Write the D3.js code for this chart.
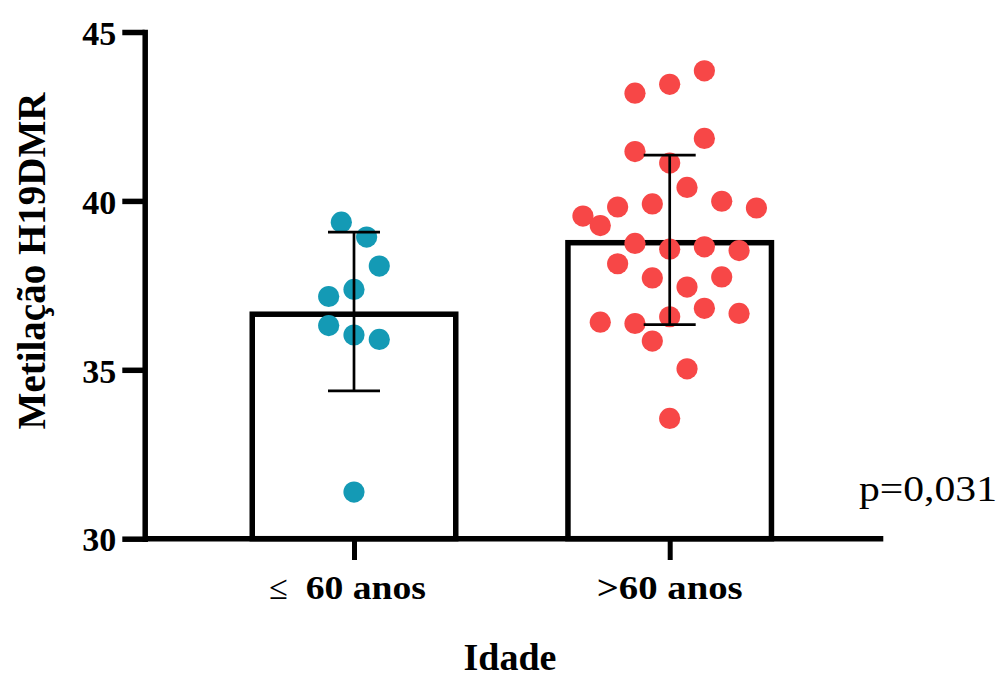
<!DOCTYPE html>
<html>
<head>
<meta charset="utf-8">
<script src="https://cdn.jsdelivr.net/npm/d3@7"></script>
<style>
  html, body { margin: 0; padding: 0; background: #fff; }
  svg { display: block; }
</style>
</head>
<body>
<div id="chart"></div>
<script>
// H19 DMR methylation by age group (individual values, bar = mean, whiskers = SD)
const categories = ["≤ 60 anos", ">60 anos"];

// values listed row by row (top to bottom), left to right within a row
const youngerValues = [39.37, 38.93, 37.17, 37.38, 38.07, 36.31, 36.03, 35.90, 31.38];
const olderValues = [
  43.19, 43.45, 43.85,
  41.46, 41.12, 41.85,
  39.55, 39.82, 39.91, 40.40, 39.99, 39.79,
  39.27, 38.74, 38.57, 38.64, 38.53,
  38.14, 37.72, 37.45, 37.75,
  36.41, 36.37, 36.57, 36.82, 36.67,
  35.85, 35.03,
  33.56
];
const groupValues = [youngerValues, olderValues];
const groupColors = ["#149ab5", "#f74747"];

const yTicks = [30, 35, 40, 45];
const yDomain = [30, 45];
const yTitle = "Metilação H19DMR";
const xTitle = "Idade";
const pLabel = "p=0,031";

const W = 1006, H = 679;
const serif = "'Liberation Serif', 'Times New Roman', serif";

const svg = d3.select("#chart").append("svg")
  .attr("width", W).attr("height", H);

const y = d3.scaleLinear().domain(yDomain).range([538.7, 32]);
const x = d3.scalePoint().domain(categories).range([354, 669.7]);

const axisX0 = 144.7, axisX1 = 883.3, axisW = 5.5;
const barOuter = 209, barStroke = 5.5;
const dotR = 10.6;
const slotStep = [12.65, 17.35];
const rowTol = 0.93;
const capHalf = 26;

// arrange dots in horizontal rows (grouped by value), centred on the column
function swarmSlots(values, tol) {
  const order = d3.range(values.length).sort((a, b) => values[b] - values[a] || a - b);
  const rows = [];
  let cur = null;
  for (const i of order) {
    if (!cur || values[cur.start] - values[i] > tol) { cur = { start: i, idx: [] }; rows.push(cur); }
    cur.idx.push(i);
  }
  const slot = new Array(values.length);
  rows.forEach(r => {
    const ids = r.idx.slice().sort((a, b) => a - b);
    const n = ids.length;
    ids.forEach((id, k) => { slot[id] = 2 * k - (n - 1); });
  });
  return slot;
}

const groups = categories.map((c, g) => {
  const vals = groupValues[g];
  return {
    cat: c,
    vals,
    mean: d3.mean(vals),
    sd: d3.deviation(vals),
    slots: swarmSlots(vals, rowTol),
    step: slotStep[g],
    color: groupColors[g]
  };
});

// bars (mean)
svg.append("g").selectAll("rect").data(groups).join("rect")
  .attr("x", d => x(d.cat) - barOuter / 2 + barStroke / 2)
  .attr("width", barOuter - barStroke)
  .attr("y", d => y(d.mean) + barStroke / 2)
  .attr("height", d => y(yDomain[0]) - y(d.mean) - barStroke / 2)
  .attr("fill", "#fff")
  .attr("stroke", "#000")
  .attr("stroke-width", barStroke);

// individual points
groups.forEach(gr => {
  svg.append("g").selectAll("circle").data(gr.vals).join("circle")
    .attr("cx", (v, i) => x(gr.cat) + gr.slots[i] * gr.step)
    .attr("cy", v => y(v))
    .attr("r", dotR)
    .attr("fill", gr.color);
});

// error bars (± SD)
const eb = svg.append("g").attr("stroke", "#000").attr("stroke-width", 2.7).attr("fill", "none");
groups.forEach(gr => {
  const cx = x(gr.cat);
  const top = y(gr.mean + gr.sd), bot = y(gr.mean - gr.sd);
  eb.append("line").attr("x1", cx).attr("x2", cx).attr("y1", top).attr("y2", bot);
  eb.append("line").attr("x1", cx - capHalf).attr("x2", cx + capHalf).attr("y1", top).attr("y2", top);
  eb.append("line").attr("x1", cx - capHalf).attr("x2", cx + capHalf).attr("y1", bot).attr("y2", bot);
});

// y axis
const gy = svg.append("g")
  .attr("transform", `translate(${axisX0},0)`)
  .call(d3.axisLeft(y).tickValues(yTicks).tickSize(22.4).tickSizeOuter(0).tickPadding(6).tickFormat(d3.format("d")));
gy.select(".domain").attr("stroke-width", axisW).attr("stroke-linecap", "square");
gy.selectAll(".tick line").attr("stroke-width", axisW);
gy.selectAll(".tick text")
  .attr("font-family", serif).attr("font-weight", "bold").attr("font-size", 34)
  .attr("fill", "#000").attr("dy", "0.36em");

// x axis
svg.append("line")
  .attr("x1", axisX0).attr("x2", axisX1)
  .attr("y1", y(yDomain[0])).attr("y2", y(yDomain[0]))
  .attr("stroke", "#000").attr("stroke-width", axisW);
const gx = svg.append("g")
  .attr("transform", `translate(0,${y(yDomain[0])})`)
  .call(d3.axisBottom(x).tickSize(21.3).tickSizeOuter(0).tickFormat(""));
gx.select(".domain").remove();
gx.selectAll(".tick line").attr("stroke-width", 5);

// category labels
const labelY = 599;
const lab = svg.append("g").attr("font-family", serif).attr("font-size", 34).attr("fill", "#000");
categories.forEach((c, i) => {
  const cx = x(c);
  const t = lab.append("text").attr("y", labelY);
  if (c.startsWith("≤")) {
    t.append("tspan").attr("x", cx - 84.7).attr("font-weight", "normal").text("≤");
    t.append("tspan").attr("x", cx - 48.3).attr("font-weight", "bold")
      .attr("textLength", 120.3).attr("lengthAdjust", "spacingAndGlyphs")
      .text(c.replace("≤", "").trim());
  } else {
    t.attr("x", cx - 73).attr("font-weight", "bold")
      .attr("textLength", 146).attr("lengthAdjust", "spacingAndGlyphs")
      .text(c);
  }
});

// axis titles
svg.append("text")
  .attr("transform", `translate(45,261) rotate(-90)`)
  .attr("text-anchor", "middle")
  .attr("font-family", serif).attr("font-weight", "bold").attr("font-size", 39)
  .attr("fill", "#000")
  .text(yTitle);

svg.append("text")
  .attr("x", 510).attr("y", 670)
  .attr("text-anchor", "middle")
  .attr("font-family", serif).attr("font-weight", "bold").attr("font-size", 38)
  .attr("fill", "#000")
  .text(xTitle);

// p-value
svg.append("text")
  .attr("x", 859).attr("y", 501)
  .attr("font-family", serif).attr("font-size", 35)
  .attr("textLength", 138).attr("lengthAdjust", "spacingAndGlyphs")
  .attr("fill", "#000")
  .text(pLabel);
</script>
</body>
</html>
